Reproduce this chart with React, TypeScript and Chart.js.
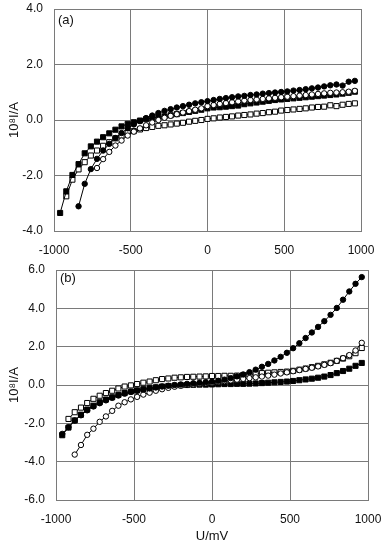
import React, { useEffect, useRef } from "react";
import { Chart, registerables } from "chart.js";

Chart.register(...registerables);

// Applied voltage U / mV (shared sampling grid, 40 mV step)
const U_MV = [
  -960, -920, -880, -840, -800, -760, -720, -680, -640, -600, -560, -520, -480, -440, -400, -360, -320, -280, -240, -200,
  -160, -120, -80, -40, 0, 40, 80, 120, 160, 200, 240, 280, 320, 360, 400, 440, 480, 520, 560, 600, 640, 680, 720, 760,
  800, 840, 880, 920, 960,
];

const X_TICKS = [-1000, -500, 0, 500, 1000];
const Y_TICKS_A = [-4, -2, 0, 2, 4];
const Y_TICKS_B = [-6, -4, -2, 0, 2, 4, 6];

// Panel (a): 10^8 I / A
const A_FILLED_CIRCLE = [
  null, null, null, -3.11, -2.3, -1.77, -1.4, -1.1, -0.86, -0.65, -0.47, -0.3, -0.16, -0.04, 0.07, 0.16, 0.25, 0.33, 0.39, 0.45,
  0.5, 0.55, 0.6, 0.64, 0.68, 0.72, 0.76, 0.79, 0.82, 0.85, 0.87, 0.9, 0.92, 0.95, 0.97, 0.99, 1.01, 1.03, 1.06, 1.08,
  1.11, 1.14, 1.17, 1.21, 1.25, 1.28, 1.24, 1.38, 1.41,
];
const A_OPEN_CIRCLE = [
  null, null, null, null, null, null, -1.73, -1.41, -1.15, -0.92, -0.74, -0.56, -0.42, -0.3, -0.19, -0.09, 0.0, 0.08, 0.15, 0.21,
  0.27, 0.32, 0.37, 0.42, 0.5, 0.54, 0.58, 0.61, 0.64, 0.67, 0.7, 0.72, 0.74, 0.76, 0.78, 0.8, 0.82, 0.84, 0.86, 0.88,
  0.9, 0.92, 0.94, 0.96, 0.98, 0.99, 1.0, 1.02, 1.05,
];
const A_FILLED_SQUARE = [
  -3.35, -2.57, -1.98, -1.59, -1.2, -0.95, -0.78, -0.62, -0.48, -0.35, -0.23, -0.14, -0.08, -0.02, 0.03, 0.07, 0.1, 0.13, 0.17, 0.21,
  0.25, 0.29, 0.33, 0.37, 0.42, 0.45, 0.46, 0.48, 0.5, 0.52, 0.57, 0.6, 0.63, 0.66, 0.69, 0.72, 0.74, 0.76, 0.78, 0.8,
  0.82, 0.84, 0.86, 0.88, 0.9, 0.92, 0.95, 0.98, 1.02,
];
const A_OPEN_SQUARE = [
  null, -2.75, -2.15, -1.78, -1.52, -1.28, -1.1, -0.93, -0.8, -0.66, -0.56, -0.47, -0.4, -0.34, -0.29, -0.25, -0.21, -0.19, -0.16, -0.13,
  -0.1, -0.06, -0.03, 0.0, 0.04, 0.06, 0.09, 0.11, 0.13, 0.16, 0.18, 0.2, 0.23, 0.25, 0.28, 0.3, 0.34, 0.36, 0.38, 0.4,
  0.42, 0.45, 0.47, 0.48, 0.53, 0.5, 0.55, 0.58, 0.6,
];

// Panel (b): 10^8 I / A
const B_FILLED_CIRCLE = [
  -2.55, -2.2, -1.85, -1.58, -1.32, -1.12, -0.95, -0.8, -0.67, -0.55, -0.45, -0.36, -0.3, -0.24, -0.18, -0.13, -0.08, -0.04, 0.0, 0.03,
  0.06, 0.09, 0.12, 0.15, 0.18, 0.22, 0.28, 0.36, 0.45, 0.55, 0.67, 0.8, 0.95, 1.1, 1.28, 1.47, 1.68, 1.92, 2.18, 2.45,
  2.74, 3.03, 3.33, 3.66, 4.02, 4.45, 4.88, 5.28, 5.63,
];
const B_OPEN_CIRCLE = [
  null, null, -3.63, -3.13, -2.6, -2.28, -1.92, -1.64, -1.35, -1.08, -0.9, -0.75, -0.62, -0.5, -0.4, -0.3, -0.22, -0.15, -0.09, -0.04,
  0.0, 0.03, 0.06, 0.09, 0.12, 0.16, 0.2, 0.24, 0.28, 0.32, 0.36, 0.4, 0.44, 0.49, 0.54, 0.6, 0.66, 0.72, 0.78, 0.84,
  0.9, 0.97, 1.05, 1.14, 1.26, 1.4, 1.56, 1.8, 2.2,
];
const B_FILLED_SQUARE = [
  -2.62, -2.22, -1.85, -1.55, -1.28, -1.08, -0.9, -0.76, -0.64, -0.52, -0.42, -0.34, -0.28, -0.22, -0.17, -0.12, -0.08, -0.05, -0.03, -0.01,
  0.0, 0.01, 0.02, 0.02, 0.03, 0.04, 0.05, 0.05, 0.06, 0.06, 0.07, 0.08, 0.1, 0.12, 0.14, 0.16, 0.18, 0.21, 0.25, 0.29,
  0.33, 0.38, 0.44, 0.52, 0.62, 0.73, 0.85, 1.0, 1.15,
];
const B_OPEN_SQUARE = [
  null, -1.77, -1.42, -1.18, -0.94, -0.72, -0.56, -0.42, -0.3, -0.18, -0.08, -0.02, 0.05, 0.12, 0.18, 0.25, 0.31, 0.34, 0.38, 0.4,
  0.42, 0.43, 0.44, 0.45, 0.47, 0.47, 0.48, 0.48, 0.49, 0.52, 0.55, 0.58, 0.62, 0.64, 0.66, 0.68, 0.7, 0.74, 0.8, 0.86,
  0.93, 1.0, 1.08, 1.16, 1.26, 1.38, 1.5, 1.66, 1.93,
];

const FONT = '"Liberation Sans", Arial, Helvetica, sans-serif';
const GRID = "#7a7a7a";

type Marker = "fc" | "oc" | "fs" | "os";

function series(values: (number | null)[], marker: Marker) {
  const data = U_MV.map((u, i) => ({ x: u, y: values[i] })).filter((p) => p.y !== null);
  const isRect = marker === "fs" || marker === "os";
  const filled = marker === "fc" || marker === "fs";
  return {
    data,
    borderColor: "#000",
    borderWidth: 1,
    pointStyle: isRect ? "rect" : "circle",
    pointRadius: isRect ? 3.6 : 2.7,
    pointBorderWidth: 1,
    pointBorderColor: "#000",
    pointBackgroundColor: filled ? "#000" : "#fff",
    backgroundColor: filled ? "#000" : "#fff",
    tension: 0,
    fill: false,
  };
}

const panelLabel = {
  id: "panelLabel",
  afterDraw(chart: any, _args: any, opts: any) {
    const { ctx, chartArea } = chart;
    ctx.save();
    ctx.font = `13px ${FONT}`;
    ctx.fillStyle = "#111";
    ctx.textBaseline = "middle";
    ctx.textAlign = "left";
    ctx.fillText(opts.text, chartArea.left + 4, chartArea.top + opts.dy);
    ctx.restore();
  },
};

function zeroPadding(s: any) {
  s.paddingTop = 0;
  s.paddingBottom = 0;
  s.paddingLeft = 0;
  s.paddingRight = 0;
}

type PanelProps = {
  top: number;
  height: number;
  yWidth: number;
  xHeight: number;
  padTop: number;
  padRight: number;
  yTicks: number[];
  label: string;
  labelDy: number;
  showXTitle: boolean;
  datasets: any[];
};

function Panel(p: PanelProps) {
  const ref = useRef<HTMLCanvasElement>(null);
  useEffect(() => {
    if (!ref.current) return;
    const yMin = p.yTicks[0];
    const yMax = p.yTicks[p.yTicks.length - 1];
    const chart = new Chart(ref.current, {
      type: "line",
      data: { datasets: p.datasets },
      plugins: [panelLabel],
      options: {
        responsive: false,
        animation: false,
        devicePixelRatio: 1,
        layout: { padding: { left: 0, right: p.padRight, top: p.padTop, bottom: 0 } },
        plugins: {
          legend: { display: false },
          tooltip: { enabled: false },
          panelLabel: { text: p.label, dy: p.labelDy },
        } as any,
        scales: {
          x: {
            type: "linear",
            min: X_TICKS[0],
            max: X_TICKS[X_TICKS.length - 1],
            afterBuildTicks: (s: any) => {
              s.ticks = X_TICKS.map((v) => ({ value: v }));
            },
            afterFit: (s: any) => {
              s.height = p.xHeight;
              zeroPadding(s);
            },
            ticks: {
              callback: (v: any) => String(v),
              font: { family: FONT, size: 12 },
              color: "#111",
              padding: 12,
              maxRotation: 0,
              autoSkip: false,
            },
            grid: { color: GRID, lineWidth: 1, drawTicks: false },
            border: { color: GRID, width: 1 },
            title: {
              display: p.showXTitle,
              text: "U/mV",
              font: { family: FONT, size: 13 },
              color: "#111",
              padding: { top: 0, bottom: 4 },
            },
          },
          y: {
            type: "linear",
            min: yMin,
            max: yMax,
            afterBuildTicks: (s: any) => {
              s.ticks = p.yTicks.map((v) => ({ value: v }));
            },
            afterFit: (s: any) => {
              s.width = p.yWidth;
              zeroPadding(s);
            },
            ticks: {
              callback: (v: any) => Number(v).toFixed(1),
              font: { family: FONT, size: 12 },
              color: "#111",
              padding: 11,
              autoSkip: false,
            },
            grid: { color: GRID, lineWidth: 1, drawTicks: false },
            border: { color: GRID, width: 1 },
            title: {
              display: true,
              text: "10⁸I/A",
              font: { family: FONT, size: 13 },
              color: "#111",
              padding: { top: 7, bottom: 0 },
            },
          },
        },
      } as any,
    });
    return () => chart.destroy();
  }, []);
  return (
    <div style={{ position: "absolute", left: 0, top: p.top, width: 384, height: p.height }}>
      <canvas ref={ref} width={384} height={p.height} style={{ width: 384, height: p.height, display: "block" }} />
    </div>
  );
}

export default function App() {
  const dsA = [
    series(A_FILLED_CIRCLE, "fc"),
    series(A_OPEN_CIRCLE, "oc"),
    series(A_FILLED_SQUARE, "fs"),
    series(A_OPEN_SQUARE, "os"),
  ];
  const dsB = [
    series(B_FILLED_CIRCLE, "fc"),
    series(B_OPEN_CIRCLE, "oc"),
    series(B_FILLED_SQUARE, "fs"),
    series(B_OPEN_SQUARE, "os"),
  ];
  return (
    <div style={{ position: "fixed", left: 0, top: 0, width: 384, height: 548, background: "#fff", overflow: "hidden" }}>
      <Panel
        top={0}
        height={262}
        yWidth={54}
        xHeight={31}
        padTop={9}
        padRight={23}
        yTicks={Y_TICKS_A}
        label="(a)"
        labelDy={11}
        showXTitle={false}
        datasets={dsA}
      />
      <Panel
        top={262}
        height={286}
        yWidth={56}
        xHeight={48}
        padTop={8}
        padRight={16}
        yTicks={Y_TICKS_B}
        label="(b)"
        labelDy={8}
        showXTitle={true}
        datasets={dsB}
      />
    </div>
  );
}
